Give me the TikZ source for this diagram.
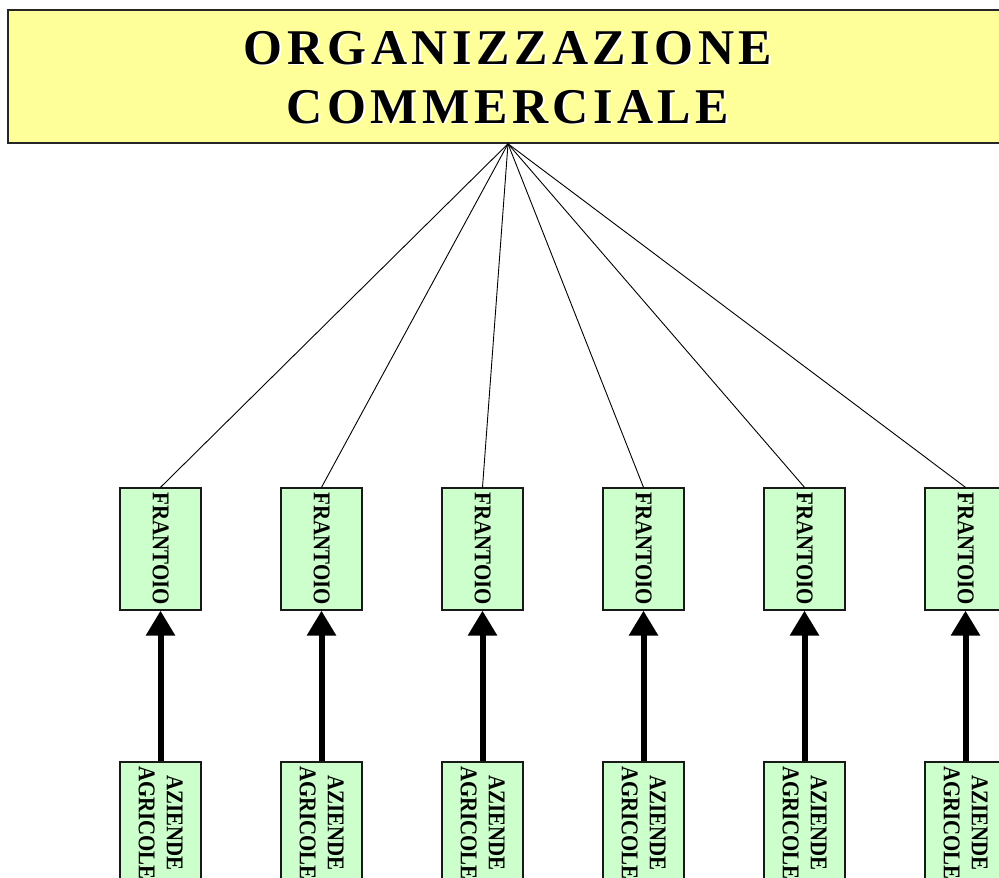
\documentclass[tikz,border=0pt]{standalone}
\usepackage{fontspec}
\setmainfont{Liberation Serif}
\newfontfamily\titlefont[LetterSpace=9]{Liberation Serif}
\usetikzlibrary{arrows.meta}
\definecolor{titleyellow}{HTML}{FFFF99}
\definecolor{boxgreen}{HTML}{CCFFCC}
\newcommand{\titletxt}[1]{{\titlefont\bfseries\fontsize{50}{54}\selectfont
  \makebox[0pt][l]{\hspace{2pt}\raisebox{-1.5pt}{\color{white}#1}}#1}}
\newcommand{\vtxt}[1]{\scalebox{0.87}[1]{\bfseries\fontsize{24}{28}\selectfont\begin{tabular}{@{}c@{}}#1\end{tabular}}}
\begin{document}
\begin{tikzpicture}[x=1pt,y=-1pt]
\tikzset{
  titlebox/.style={draw=black!85, line width=1.6pt, fill=titleyellow, minimum width=1000pt, minimum height=133pt, inner sep=0pt},
  titletext/.style={anchor=base, inner sep=0pt},
  frbox/.style={draw=black!90, line width=1.3pt, fill=boxgreen, minimum width=81pt, minimum height=122pt, inner sep=0pt},
  vlabel/.style={rotate=-90, inner sep=0pt},
  feed/.style={line width=0.9pt},
  flow/.style={line width=6pt, -{Triangle[length=25pt,width=28pt]}}
}
\useasboundingbox (0,0) rectangle (999,878);
\node[titlebox] (org) at (508,76.5) {};
\node[titletext] (t1) at (508,64) {\titletxt{ORGANIZZAZIONE}};
\node[titletext] (t2) at (508,123) {\titletxt{COMMERCIALE}};
\foreach \i in {0,...,5} {
  \pgfmathsetmacro{\xx}{160.5+161*\i}
  \node[frbox] (f\i) at (\xx,549) {};
  \node[vlabel] (ft\i) at ([xshift=-2pt]f\i.center) {\vtxt{FRANTOIO}};
  \node[frbox] (a\i) at (\xx,823) {};
  \node[vlabel] (at\i) at ([xshift=-2pt]a\i.center) {\vtxt{AZIENDE\\AGRICOLE}};
  \draw[feed] (org.south) -- (f\i.north);
  \draw[flow] (a\i.north) -- (f\i.south);
}
\end{tikzpicture}
\end{document}
